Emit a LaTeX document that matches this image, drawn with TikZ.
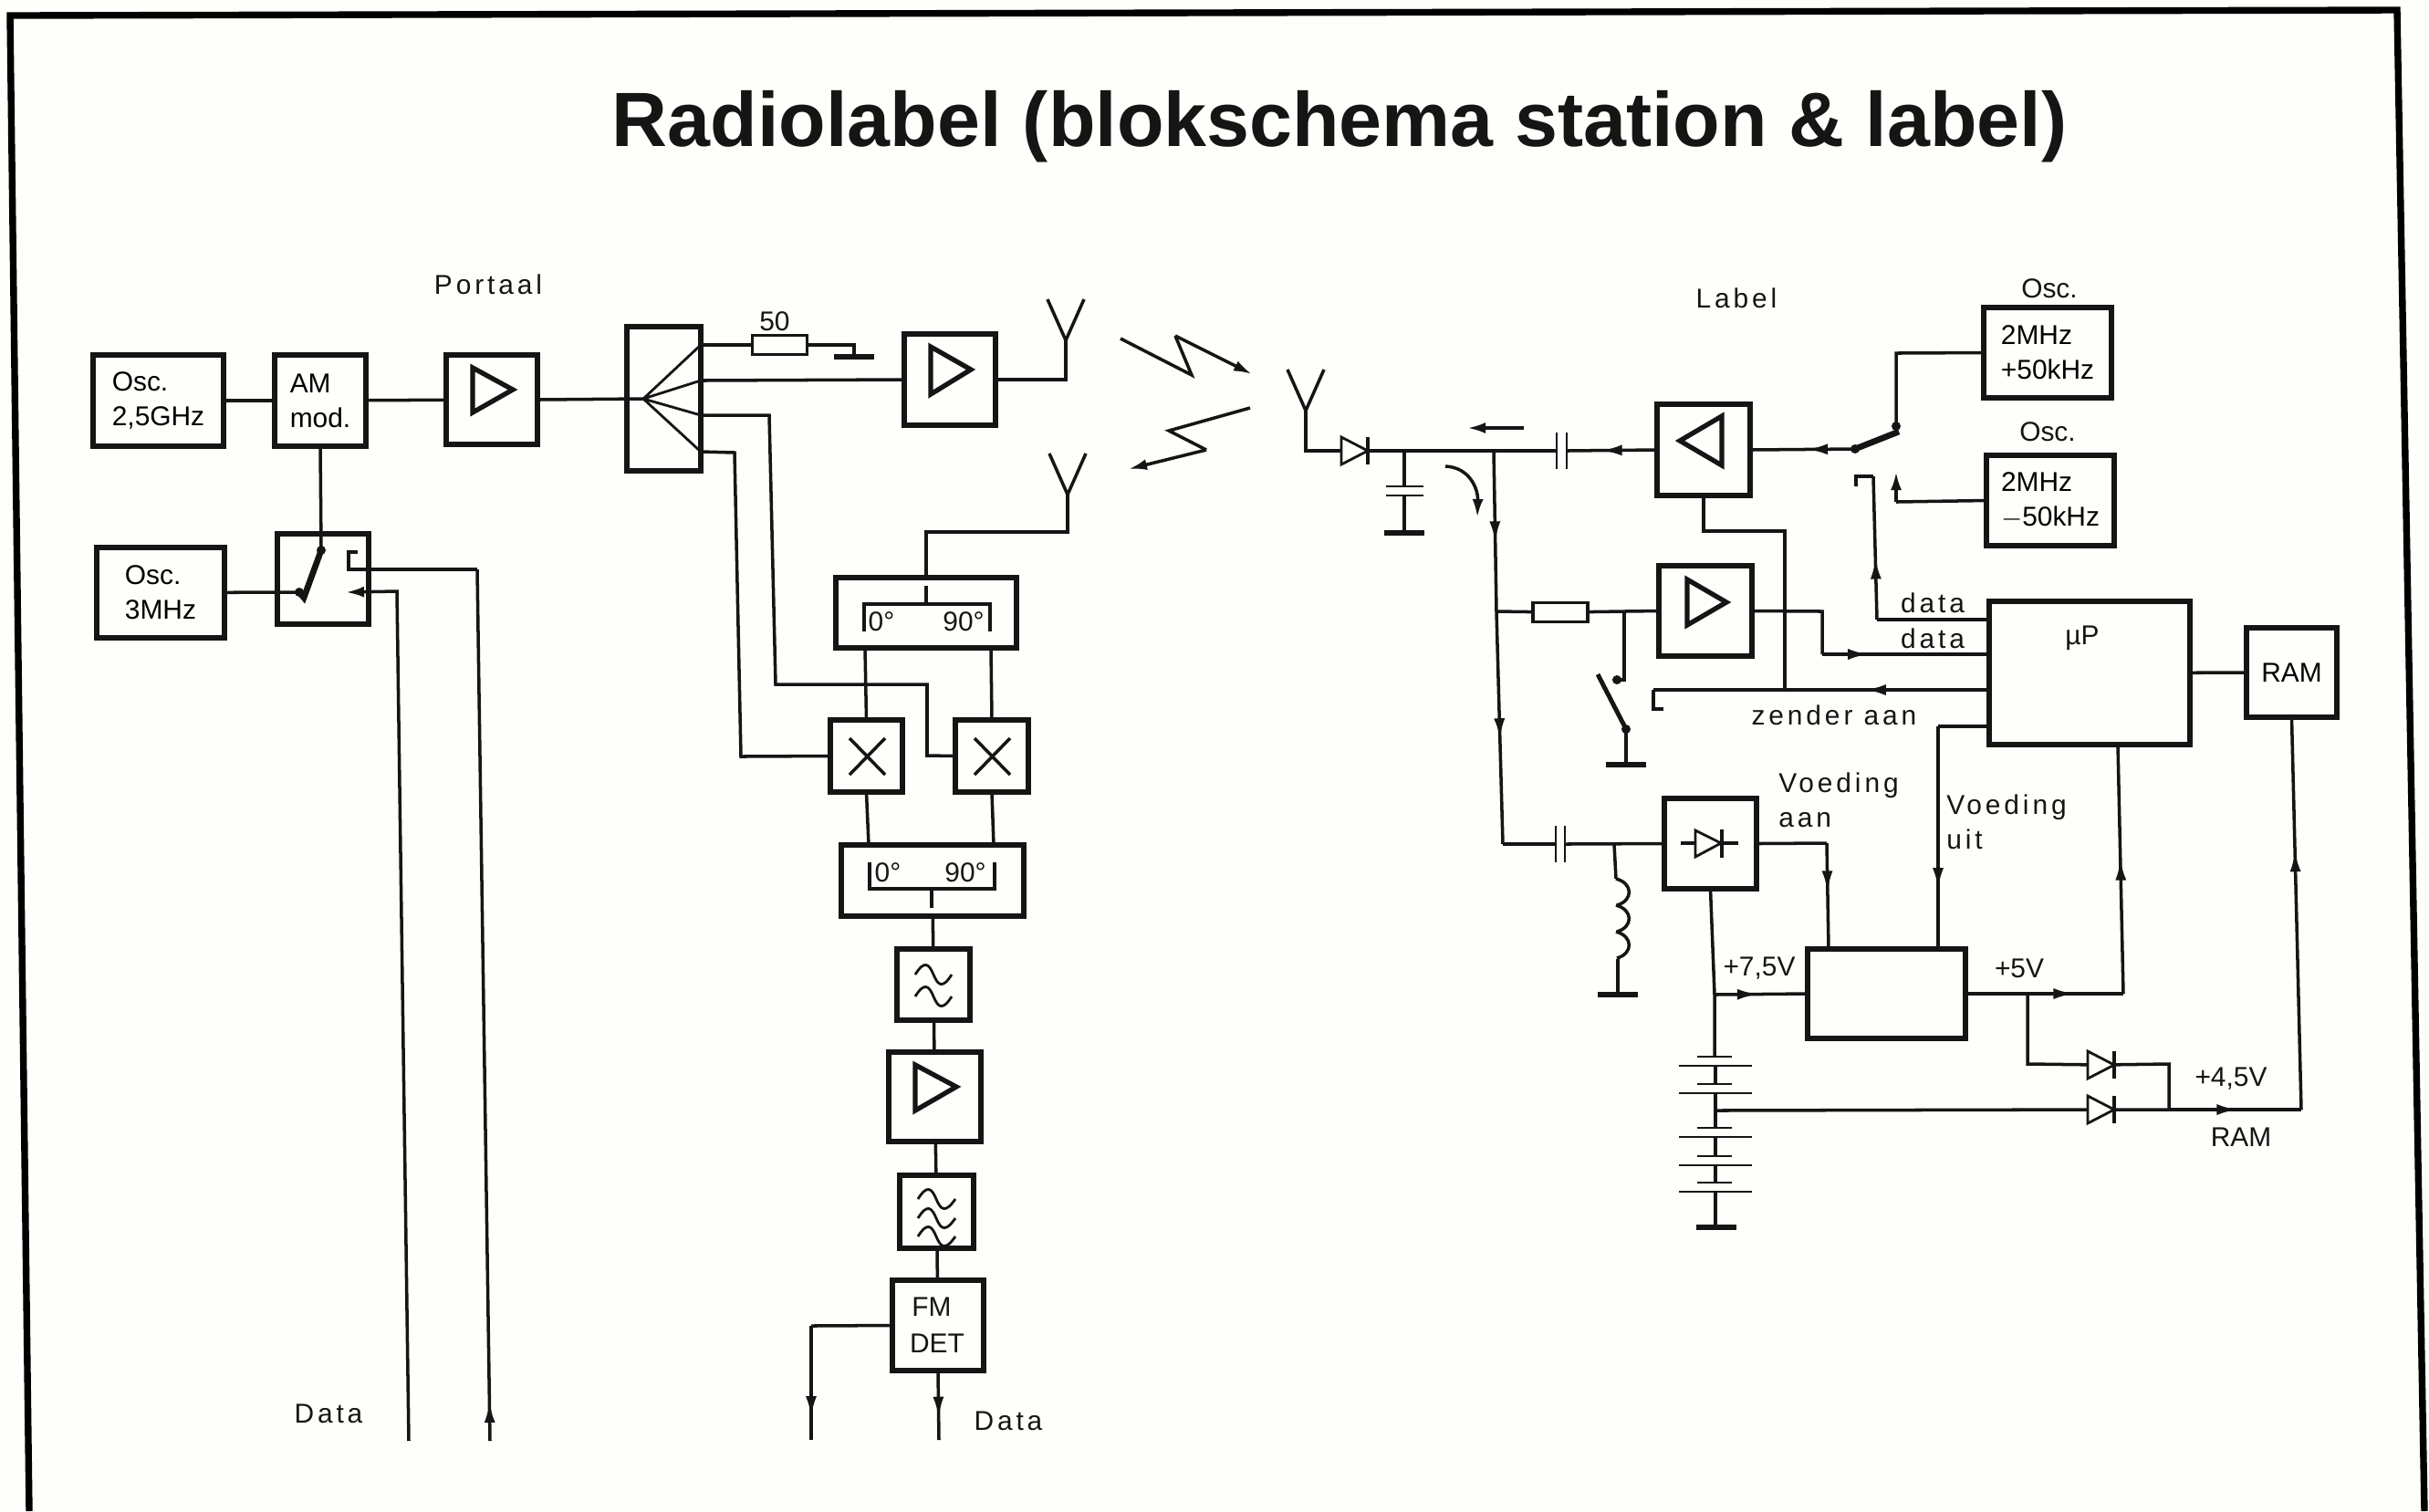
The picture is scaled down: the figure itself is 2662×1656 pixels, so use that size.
\documentclass[tikz,border=0pt]{standalone}
\usepackage{fontspec}
\setmainfont{Liberation Sans}
\usetikzlibrary{arrows.meta,decorations.markings}
\definecolor{papier}{HTML}{FEFEFA}
\definecolor{inkt}{HTML}{151515}
\tikzset{
  lijn/.style={draw=inkt,line width=1pt},
  dun/.style={draw=inkt,line width=0.8pt},
  dik/.style={draw=inkt,line width=1.9pt},
  blok/.style={draw=inkt,line width=1.7pt,inner sep=0pt,outer sep=0pt,align=left,font=\tekstfont},
  weerstand/.style={draw=inkt,line width=0.9pt,inner sep=0pt,outer sep=0pt,minimum width=0.6cm,minimum height=0.21cm},
  tekst/.style={inner sep=0pt,outer sep=0pt,align=left,text=inkt,font=\tekstfont},
  ruim/.style={tekst,font=\tekstfont\addfontfeatures{LetterSpace=13}},
  driehoek/.style={draw=inkt,line width=1.5pt,line join=miter},
  pijl/.style={postaction={decorate},decoration={markings,mark=at position #1 with {\arrow{Latex[length=2.3mm,width=1.2mm]}}}},
  punt/.style={-{Latex[length=2mm,width=1.2mm]}}
}
\newcommand{\tekstfont}{\fontsize{8.5pt}{10.8pt}\selectfont}
\begin{document}
\begin{tikzpicture}[x=0.01cm,y=-0.01cm]
\useasboundingbox (0,0) rectangle (2662,1656);
\fill[papier] (0,0) rectangle (2662,1656);
\coordinate (kaderA) at (32,1656);
\coordinate (kaderB) at (11,17);
\coordinate (kaderC) at (2627,11);
\coordinate (kaderD) at (2657,1656);
\draw[draw=black,line width=2.1pt,line join=miter] (kaderA) -- (kaderB) -- (kaderC) -- (kaderD);
\node[text=inkt,inner sep=0pt,font=\fontsize{24pt}{30pt}\bfseries\selectfont] (titel) at (1468,139) {Radiolabel (blokschema station \& label)};

\node[ruim] (portaal) at (535,312) {Portaal};
\node[blok,minimum width=1.43cm,minimum height=1cm] (oscA) at (173.5,439) {Osc.\\2,5GHz};
\node[blok,minimum width=1cm,minimum height=1cm] (amMod) at (351,439) {AM\\mod.};
\node[blok,minimum width=1cm,minimum height=0.98cm] (ampA) at (539,438) {};
\node[blok,minimum width=0.81cm,minimum height=1.58cm] (split) at (727.5,437) {};
\node[blok,minimum width=1.4cm,minimum height=0.99cm] (oscB) at (176,649.5) {Osc.\\3MHz};
\node[blok,minimum width=1cm,minimum height=0.99cm] (swA) at (354,634.5) {};
\node[weerstand] (weerA) at (854.5,378) {};
\node[tekst] (vijftig) at (849,352) {50};
\node[blok,minimum width=1cm,minimum height=1cm] (ampB) at (1041,416) {};
\node[blok,minimum width=1.98cm,minimum height=0.77cm] (kwadA) at (1015,671.5) {};
\node[blok,minimum width=0.79cm,minimum height=0.79cm] (mengA) at (949.5,828.5) {};
\node[blok,minimum width=0.8cm,minimum height=0.79cm] (mengB) at (1087,828.5) {};
\node[blok,minimum width=2cm,minimum height=0.78cm] (kwadB) at (1022,965) {};
\node[blok,minimum width=0.8cm,minimum height=0.78cm] (filtA) at (1023,1079) {};
\node[blok,minimum width=1.01cm,minimum height=0.98cm] (ampC) at (1024.5,1202) {};
\node[blok,minimum width=0.81cm,minimum height=0.8cm] (filtB) at (1026.5,1328) {};
\node[blok,minimum width=1cm,minimum height=0.99cm] (fmDet) at (1028,1452.5) {};
\node[tekst] (fmTekst) at (1021,1432) {FM};
\node[tekst] (detTekst) at (1027,1472) {DET};
\node[ruim] (dataA) at (360,1549) {Data};
\node[ruim] (dataB) at (1105,1557) {Data};
\node[tekst] (nulA) at (966,681) {0°};
\node[tekst] (negenA) at (1056,681) {90°};
\node[tekst] (nulB) at (973,956) {0°};
\node[tekst] (negenB) at (1058,956) {90°};

\node[ruim] (label) at (1903,327) {Label};
\node[tekst] (oscCtekst) at (2246,316) {Osc.};
\node[tekst] (oscDtekst) at (2244,473) {Osc.};
\node[blok,minimum width=1.02cm,minimum height=1cm] (ampD) at (1867,493) {};
\node[blok,minimum width=1.02cm,minimum height=0.99cm] (ampE) at (1869,669.5) {};
\node[blok,minimum width=1.4cm,minimum height=0.99cm] (oscC) at (2244,386.5) {2MHz\\+50kHz};
\node[blok,minimum width=1.4cm,minimum height=0.99cm] (oscD) at (2247,548.5) {2MHz\\$-$50kHz};
\node[blok,minimum width=2.2cm,minimum height=1.57cm] (mup) at (2290,737.5) {};
\node[tekst] (mupTekst) at (2282,699) {µP};
\node[blok,minimum width=0.99cm,minimum height=0.98cm] (ram) at (2511.5,737) {RAM};
\node[blok,minimum width=1.01cm,minimum height=0.99cm] (gelijk) at (1874.5,924.5) {};
\node[blok,minimum width=1.73cm,minimum height=0.98cm] (regel) at (2067.5,1089) {};
\node[weerstand] (weerB) at (1710,671) {};
\node[ruim] (dataC) at (2118,661) {data};
\node[ruim] (dataD) at (2118,700) {data};
\node[ruim] (zender) at (2010,784) {zender aan};
\node[ruim] (voedAan) at (2015,877) {Voeding\\aan};
\node[ruim] (voedUit) at (2199,901) {Voeding\\uit};
\node[tekst] (volt75) at (1928,1061) {+7,5V};
\node[tekst] (volt5) at (2213,1061) {+5V};
\node[tekst] (volt45) at (2445,1182) {+4,5V};
\node[tekst] (ramTekst) at (2456,1246) {RAM};

\coordinate (fanM) at (705,437);
\coordinate (fanA) at (768,378);
\coordinate (fanB) at (768,417);
\coordinate (fanC) at (768,455);
\coordinate (fanD) at (768,495);
\coordinate (gndA) at (936,391);
\coordinate (hoekA) at (936,378);
\coordinate (antA) at (1168,373);
\coordinate (antAv) at (1168,416);
\coordinate (antB) at (1170,542);
\coordinate (antBv) at (1170,583);
\coordinate (antBh) at (1015,583);
\coordinate (swAin) at (328,649);
\coordinate (swAb) at (333,655);
\coordinate (swAa) at (352,603);
\coordinate (contA) at (392,605);
\coordinate (contB) at (382,605);
\coordinate (contC) at (382,624);
\coordinate (contD) at (523,624);
\coordinate (contE) at (537,1579);
\coordinate (contF) at (379,649);
\coordinate (contG) at (435,648);
\coordinate (contH) at (448,1579);
\coordinate (spA) at (843,455);
\coordinate (spB) at (850,750);
\coordinate (spC) at (1016,750);
\coordinate (spD) at (1016,828);
\coordinate (spE) at (805,496);
\coordinate (spF) at (812,829);
\coordinate (kwadAl) at (948,710);
\coordinate (kwadAr) at (1086,710);
\coordinate (kwadBl) at (952,926);
\coordinate (kwadBr) at (1089,926);
\coordinate (detA) at (889,1453);
\coordinate (detB) at (889,1578);
\coordinate (detC) at (1029,1578);

\coordinate (antC) at (1431,450);
\coordinate (antCv) at (1431,494);
\coordinate (diodeA) at (1485,494);
\coordinate (capA) at (1539,494);
\coordinate (capAb) at (1539,533);
\coordinate (capAo) at (1539,543);
\coordinate (gndB) at (1539,584);
\coordinate (knoopA) at (1637,494);
\coordinate (capBl) at (1706,494);
\coordinate (capBr) at (1717,494);
\coordinate (knoopB) at (1640,670);
\coordinate (knoopC) at (1647,925);
\coordinate (knoopD) at (1780,670);
\coordinate (knoopE) at (1780,745);
\coordinate (knoopF) at (1772,745);
\coordinate (swCa) at (1751,739);
\coordinate (swCb) at (1782,799);
\coordinate (gndC) at (1782,838);
\coordinate (uitA) at (1997,670);
\coordinate (uitB) at (1997,717);
\coordinate (mupB) at (2180,717);
\coordinate (ampDa) at (1867,582);
\coordinate (ampDb) at (1956,582);
\coordinate (ampDc) at (1956,756);
\coordinate (mupC) at (2180,756);
\coordinate (aanA) at (1812,756);
\coordinate (aanB) at (1812,777);
\coordinate (aanC) at (1823,777);
\coordinate (mupA) at (2180,679);
\coordinate (dataE) at (2057,679);
\coordinate (dataF) at (2053,522);
\coordinate (dataG) at (2034,522);
\coordinate (dataH) at (2034,533);
\coordinate (swBa) at (2033,492);
\coordinate (swBb) at (2081,473);
\coordinate (swBc) at (2078,467);
\coordinate (oscCa) at (2078,387);
\coordinate (oscDa) at (2078,550);
\coordinate (oscDb) at (2078,517);
\coordinate (mupD) at (2180,796);
\coordinate (uitC) at (2124,796);
\coordinate (uitD) at (2124,1040);
\coordinate (capCl) at (1705,925);
\coordinate (capCr) at (1715,925);
\coordinate (knoopG) at (1769,925);
\coordinate (spoelA) at (1771,963);
\coordinate (spoelB) at (1773,1051);
\coordinate (gndD) at (1773,1090);
\coordinate (aanD) at (2002,924);
\coordinate (aanE) at (2004,1040);
\coordinate (batA) at (1879,1090);
\coordinate (batB) at (1879,1158);
\coordinate (batC) at (1880,1217);
\coordinate (gndE) at (1881,1345);
\coordinate (vijfA) at (2222,1089);
\coordinate (vijfB) at (2327,1089);
\coordinate (vijfC) at (2321,816);
\coordinate (vijfD) at (2222,1166);
\coordinate (diodeB) at (2303,1167);
\coordinate (diodeC) at (2303,1216);
\coordinate (vijfE) at (2377,1166);
\coordinate (vijfF) at (2377,1216);
\coordinate (vijfG) at (2522,1216);

\draw[lijn] (oscA) -- (amMod);
\draw[lijn] (amMod) -- (ampA);
\draw[lijn] (ampA.east) -- (fanM);
\draw[dun] (fanM) -- (fanA) (fanM) -- (fanB) (fanM) -- (fanC) (fanM) -- (fanD);
\draw[lijn] (fanA) -- (weerA);
\draw[lijn] (weerA) -- (hoekA) -- (gndA);
\draw[lijn] (fanB) -- (ampB.west);
\draw[lijn] (ampB.east) -- (antAv) -- (antA);
\draw[lijn] (antB) -- (antBv) -- (antBh) -- (kwadA.north);
\draw[lijn] (amMod.south) -- (swAa);
\draw[lijn] (oscB) -- (swAin);
\draw[dik] (swAin) -- (swAb) -- (swAa);
\draw[lijn] (contA) -- (contB) -- (contC) -- (contD);
\draw[lijn,pijl=0.045] (contE) -- (contD);
\draw[lijn,punt] (contH) -- (contG) -- (contF);
\draw[lijn] (fanC) -- (spA) -- (spB) -- (spC) -- (spD) -- (mengB.west);
\draw[lijn] (fanD) -- (spE) -- (spF) -- (mengA.west);
\draw[lijn] (kwadAl) -- (mengA.north);
\draw[lijn] (kwadAr) -- (mengB.north);
\draw[lijn] (mengA.south) -- (kwadBl);
\draw[lijn] (mengB.south) -- (kwadBr);
\draw[lijn] (kwadB) -- (filtA);
\draw[lijn] (filtA) -- (ampC);
\draw[lijn] (ampC) -- (filtB);
\draw[lijn] (filtB) -- (fmDet);
\draw[lijn] (fmDet.west) -- (detA);
\draw[lijn,pijl=0.8] (detA) -- (detB);
\draw[lijn,pijl=0.68] (fmDet.south) -- (detC);

\draw[lijn] (antC) -- (antCv) -- (knoopA) -- (capBl);
\draw[lijn] (capA) -- (capAb);
\draw[lijn] (capAo) -- (gndB);
\draw[lijn,pijl=0.62] (ampD.west) -- (capBr);
\draw[lijn,pijl=0.46] (swBa) -- (ampD.east);
\draw[dik] (swBa) -- (swBb);
\draw[lijn] (oscC.west) -- (oscCa) -- (swBc);
\draw[lijn] (oscD.west) -- (oscDa);
\draw[lijn,punt] (oscDa) -- (oscDb);
\draw[lijn,pijl=0.57] (knoopA) -- (knoopB);
\draw[lijn,pijl=0.55] (knoopB) -- (knoopC);
\draw[lijn] (knoopB) -- (weerB);
\draw[lijn] (weerB) -- (knoopD) -- (ampE.west);
\draw[lijn] (knoopD) -- (knoopE) -- (knoopF);
\draw[dik,line width=1.4pt] (swCa) -- (swCb);
\draw[lijn] (swCb) -- (gndC);
\draw[lijn] (ampE.east) -- (uitA) -- (uitB);
\draw[lijn,pijl=0.28] (uitB) -- (mupB);
\draw[lijn] (ampD.south) -- (ampDa) -- (ampDb) -- (ampDc);
\draw[lijn,pijl=0.37] (mupC) -- (aanA);
\draw[lijn] (aanA) -- (aanB) -- (aanC);
\draw[lijn] (mupA) -- (dataE);
\draw[lijn,pijl=0.43] (dataE) -- (dataF);
\draw[lijn] (dataF) -- (dataG) -- (dataH);
\draw[lijn] (mup) -- (ram);
\draw[lijn] (mupD) -- (uitC);
\draw[lijn,pijl=0.73] (uitC) -- (uitD);
\draw[lijn] (knoopC) -- (capCl);
\draw[lijn] (capCr) -- (gelijk.west);
\draw[lijn] (knoopG) -- (spoelA);
\draw[lijn] (spoelB) -- (gndD);
\draw[lijn] (gelijk.east) -- (aanD);
\draw[lijn,pijl=0.46] (aanD) -- (aanE);
\draw[lijn] (gelijk.south) -- (batA) -- (batB);
\draw[lijn,pijl=0.47] (batA) -- (regel.west);
\draw[lijn] (regel.east) -- (vijfA);
\draw[lijn,pijl=0.49] (vijfA) -- (vijfB);
\draw[lijn,pijl=0.54] (vijfB) -- (vijfC);
\draw[lijn] (vijfA) -- (vijfD) -- (diodeB) -- (vijfE) -- (vijfF);
\draw[lijn] (batC) -- (diodeC) -- (vijfF);
\draw[lijn,pijl=0.52] (vijfF) -- (vijfG);
\draw[lijn,pijl=0.66] (vijfG) -- (ram.south);

\draw[driehoek] (518,403) -- (518,452) -- (562,427) -- cycle;
\draw[driehoek] (1020,380) -- (1020,432) -- (1064,405) -- cycle;
\draw[driehoek] (1003,1167) -- (1003,1217) -- (1048,1191) -- cycle;
\draw[driehoek] (1887,456) -- (1887,510) -- (1841,483) -- cycle;
\draw[driehoek] (1849,635) -- (1849,685) -- (1892,660) -- cycle;
\foreach \a in {antA,antB,antC} {
  \draw[lijn] (\a) -- +(-20,-45) (\a) -- +(20,-45);
}
\foreach \g in {gndA,gndB,gndC,gndD,gndE} {
  \draw[dik] (\g) +(-22,0) -- +(22,0);
}
\foreach \d in {diodeA,diodeB,diodeC} {
  \draw[dun,fill=papier] (\d) +(-15,-15) -- +(-15,15) -- +(14,0) -- cycle;
  \draw[lijn] (\d) +(14,-15) -- +(14,15);
}
\draw[lijn] (1842,924) -- (1905,924);
\draw[dun,fill=papier] (1858,910) -- (1858,939) -- (1886,924) -- cycle;
\draw[lijn] (1887,909) -- (1887,940);
\foreach \c in {capBl,capBr,capCl,capCr} {
  \draw[dun] (\c) +(0,-20) -- +(0,20);
}
\foreach \c in {capAb,capAo} {
  \draw[dun] (\c) +(-20,0) -- +(21,0);
}
\foreach \y in {963,992,1021} {
  \draw[lijn] (1771,\y) .. controls (1790,\y+5) and (1790,\y+24) .. (1772,\y+29);
}
\foreach \y in {1158,1188,1236,1267,1296} {
  \draw[dun] (1879,\y) +(-19,0) -- +(19,0);
  \draw[dun] (1880,\y+10) +(-40,0) -- +(40,0);
}
\foreach \a/\b in {1168/1188,1197/1236,1247/1267,1277/1296,1306/1345} {
  \draw[lijn] (1880,\a) -- (1880,\b);
}
\foreach \p in {swAa,swBa,swBc,swCb,swAin,knoopF} {
  \fill[inkt] (\p) circle (5);
}
\draw[lijn] (947,692) -- (947,662) -- (1085,662) -- (1085,692);
\draw[lijn] (1015,642) -- (1015,662);
\draw[lijn] (953,945) -- (953,974) -- (1090,974) -- (1090,945);
\draw[lijn] (1021,974) -- (1021,995);
\draw[lijn] (931,809) -- (970,849) (970,809) -- (931,849);
\draw[lijn] (1068,809) -- (1107,849) (1107,809) -- (1068,849);
\foreach \y in {1068,1092} {
  \draw[dun] (1003,\y) .. controls (1013,\y-16) and (1018,\y-12) .. (1023,\y) .. controls (1028,\y+12) and (1033,\y+16) .. (1043,\y);
}
\foreach \y in {1314,1335,1355} {
  \draw[dun] (1006,\y) .. controls (1016,\y-16) and (1021,\y-12) .. (1026,\y) .. controls (1031,\y+12) and (1036,\y+16) .. (1047,\y);
}
\draw[lijn] (1228,371) -- (1306,411) -- (1288,368);
\draw[lijn,punt] (1288,368) -- (1372,410);
\draw[lijn] (1370,447) -- (1281,472) -- (1322,493);
\draw[lijn,punt] (1322,493) -- (1237,514);
\draw[lijn,punt] (1670,469) -- (1608,469);
\draw[lijn,punt] (1584,511) .. controls (1610,512) and (1620,535) .. (1619,567);
\end{tikzpicture}
\end{document}
